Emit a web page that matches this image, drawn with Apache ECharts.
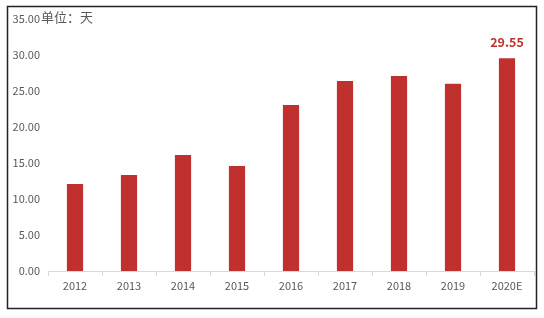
<!DOCTYPE html>
<html><head><meta charset="utf-8">
<script src="https://cdn.jsdelivr.net/npm/echarts@6/dist/echarts.min.js"></script>
<style>html,body{margin:0;padding:0;background:#fff}#c{width:544px;height:318px}</style>
</head><body><div id="c"></div>
<script>
const categories = ['2012','2013','2014','2015','2016','2017','2018','2019','2020E'];
const values = [12.1, 13.35, 16.1, 14.6, 23.05, 26.4, 27.1, 26.0, 29.55];
const yTicks = [0, 5, 10, 15, 20, 25, 30, 35];
const unitText = '单位：天';
const labeledIndex = 8;

const chart = echarts.init(document.getElementById('c'), null, {renderer:'canvas'});
const font = '"Microsoft YaHei","Noto Sans CJK SC","Liberation Sans",sans-serif';
chart.setOption({
  animation:false,
  grid:{left:48, right:10, top:19, bottom:47, containLabel:false},
  graphic:[
    {type:'rect', shape:{x:7.5, y:6.5, width:529, height:302}, style:{fill:'none', stroke:'#222', lineWidth:1.5}, z:10},
    {type:'text', left:41, top:11, style:{text:unitText, font:'13px '+font, fill:'#595959'}}
  ],
  xAxis:{type:'category', data:categories,
    axisLine:{lineStyle:{color:'#d9d9d9'}},
    axisTick:{show:true, alignWithLabel:false, length:5, lineStyle:{color:'#d9d9d9'}},
    axisLabel:{color:'#595959', fontSize:11, margin:9, fontFamily:font}},
  yAxis:{type:'value', min:yTicks[0], max:yTicks[yTicks.length-1], interval:5,
    splitLine:{show:false}, axisLine:{show:false}, axisTick:{show:false},
    axisLabel:{color:'#595959', fontSize:11, margin:8, fontFamily:font, formatter:v=>v.toFixed(2)}},
  series:[{type:'bar', data:values.map((v,i)=>i===labeledIndex?{value:v,label:{show:true}}:v),
    barWidth:'30%', itemStyle:{color:'#C0302E'},
    label:{show:false, position:'top', distance:10, color:'#C0302E', fontWeight:'bold', fontSize:12.5, fontFamily:font, formatter:p=>p.value.toFixed(2)}}]
});
</script></body></html>
